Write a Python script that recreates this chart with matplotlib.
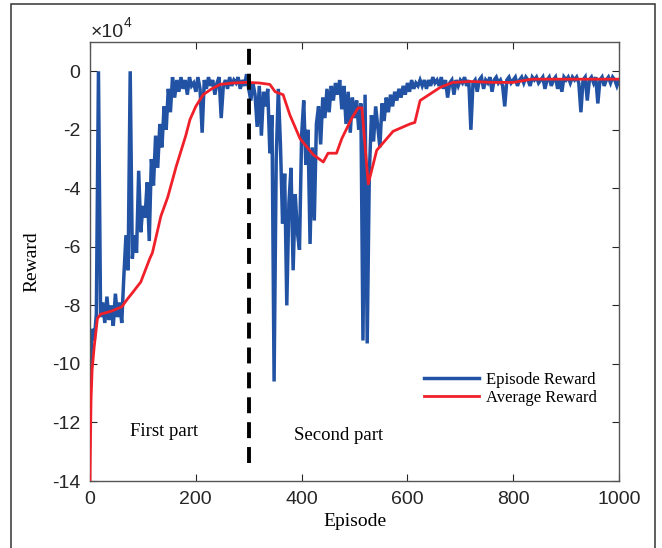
import numpy as np
import matplotlib
matplotlib.use('Agg')
import matplotlib.pyplot as plt
from matplotlib.patches import Rectangle

plt.rcParams['axes.unicode_minus'] = False

# reward values in units of 1e4 (axis shows "x10^4")
episodes = np.arange(0, 1001, 4)
episode_reward = [
    -10.5, -8.8, -9.2, -8.3, 0.0, -8.4, -7.9, -8.6, -7.7, -8.5,
    -8.0, -8.7, -7.6, -8.4, -7.9, -8.6, -7.0, -5.6, -6.8, 0.0,
    -6.4, -5.6, -6.2, -3.4, -5.5, -4.6, -5.0, -3.8, -5.8, -3.0,
    -3.9, -2.2, -3.3, -1.8, -2.6, -1.2, -2.0, -0.6, -1.4, -0.2,
    -0.9, -0.3, -0.7, -0.2, -0.6, -0.3, -0.8, -0.2, -0.5, -0.4,
    -0.7, -0.2, -0.6, -2.1, -0.3, -0.6, -0.2, -0.5, -0.3, -0.8,
    -0.4, -0.2, -1.6, -0.5, -0.3, -0.6, -0.2, -0.5, -0.3, -0.4,
    -0.2, -0.6, -0.3, -0.5, -0.1, -0.6, -1.0, -0.4, -0.8, -1.9,
    -0.5, -2.2, -0.7, -1.2, -0.6, -2.8, -1.5, -10.6, -3.0, -0.6,
    -2.5, -5.2, -3.5, -8.0, -4.5, -3.3, -6.8, -4.2, -5.5, -6.1,
    -2.2, -1.0, -3.2, -2.0, -5.9, -2.6, -5.1, -1.8, -1.2, -2.5,
    -0.9, -1.6, -0.6, -1.4, -0.5, -1.0, -0.4, -0.8, -0.3, -1.3,
    -0.5, -1.8, -0.7, -2.1, -0.9, -1.6, -1.0, -2.0, -1.1, -9.2,
    -0.8, -9.3, -3.5, -1.5, -2.4, -1.2, -1.9, -2.6, -1.1, -1.7,
    -0.9, -1.4, -0.8, -1.2, -0.7, -1.0, -0.6, -0.9, -0.5, -0.8,
    -0.4, -0.7, -0.3, -0.6, -0.4, -0.5, -0.3, -0.5, -0.3, -0.6,
    -0.3, -0.5, -0.2, -0.4, -0.3, -0.5, -0.2, -0.6, -0.3, -0.9,
    -0.4, -0.3, -0.8, -0.3, -0.5, -0.3, -0.4, -0.2, -0.5, -0.3,
    -2.0, -0.4, -0.3, -0.7, -0.3, -0.2, -0.6, -0.3, -0.4, -0.2,
    -0.7, -0.3, -0.2, -0.4, -0.3, -0.5, -1.2, -0.3, -0.2, -0.4,
    -0.3, -0.2, -0.5, -0.3, -0.2, -0.4, -0.2, -0.3, -0.5, -0.2,
    -0.3, -0.2, -0.4, -0.3, -0.2, -0.6, -0.3, -0.2, -0.5, -0.3,
    -0.2, -0.6, -0.3, -0.7, -0.2, -0.3, -0.2, -0.4, -0.2, -0.3,
    -0.2, -0.4, -1.4, -0.3, -0.2, -1.0, -0.3, -0.2, -0.4, -0.2,
    -1.1, -0.3, -0.2, -0.5, -0.3, -0.2, -0.4, -0.2, -0.3, -0.5,
    -0.3,
]
avg_episodes = [0, 1, 2, 4, 8, 14, 20, 40, 60, 70, 81, 96, 113, 118, 134, 147,
                163, 181, 189, 200, 214, 230, 246, 270, 296, 320, 340, 350,
                365, 378, 397, 422, 441, 450, 466, 476, 495, 507, 514, 526,
                542, 573, 605, 614, 624, 662, 686, 720, 760, 800, 835, 900, 1000]
average_reward = [-14.0, -12.5, -11.2, -10.2, -9.4, -8.45, -8.3, -8.2, -8.05, -7.8,
                  -7.55, -7.2, -6.4, -6.2, -4.95, -4.3, -3.25, -2.2, -1.65, -1.2,
                  -0.8, -0.6, -0.45, -0.4, -0.38, -0.4, -0.45, -0.7, -0.8, -1.5,
                  -2.3, -2.85, -3.1, -2.8, -2.8, -2.3, -1.6, -1.25, -1.25, -3.85,
                  -2.7, -2.05, -1.8, -1.75, -1.0, -0.55, -0.38, -0.35, -0.38, -0.38,
                  -0.27, -0.27, -0.27]
split_episode = 300

BLUE = '#2152a3'
RED = '#f0202a'
SERIF = 'Liberation Serif'
SANS = 'Liberation Sans'

fig = plt.figure(figsize=(6.62, 5.48), dpi=100)
fig.patch.set_facecolor('white')
fig.add_artist(Rectangle((11/662, -0.02), 644/662, 1.02 - 4/548, transform=fig.transFigure,
                         fill=False, edgecolor='#333333', lw=1.1))

ax = fig.add_axes([90/662, 67/548, 529/662, 439/548])
ax.plot(episodes, episode_reward, color=BLUE, lw=2.5, label='Episode Reward', zorder=2,
        solid_joinstyle='miter')
ax.plot(avg_episodes, average_reward, color=RED, lw=2.0, label='Average Reward', zorder=3)
ax.plot([split_episode, split_episode], [-13.4, 0.9], color='black', lw=2.8,
        dashes=(4.1, 2.3), zorder=4)

ax.set_xlim(0, 1000)
ax.set_ylim(-14, 1)
ax.set_xticks(range(0, 1001, 200))
ax.set_yticks(range(-14, 1, 2))
ax.tick_params(direction='in', top=True, right=True, length=5, width=0.8,
               labelsize=14, colors='#262626', pad=7)
for lbl in ax.get_xticklabels() + ax.get_yticklabels():
    lbl.set_fontfamily(SANS)
for s in ax.spines.values():
    s.set_edgecolor('#555555'); s.set_linewidth(1.0)

ax.set_xlabel('Episode', fontfamily=SERIF, fontsize=14, labelpad=4)
ax.set_ylabel('Reward', fontfamily=SERIF, fontsize=14, labelpad=8)

ax.text(140, -12.3, 'First part', fontfamily=SERIF, fontsize=13.5, ha='center', va='center')
ax.text(469, -12.45, 'Second part', fontfamily=SERIF, fontsize=13.5, ha='center', va='center')

fig.text(91/662, (548 - 37)/548, '×10', fontfamily=SANS, fontsize=14, va='baseline',
         color='#262626')
fig.text(124/662, (548 - 27)/548, '4', fontfamily=SANS, fontsize=10, va='baseline',
         color='#262626')

ax.legend(loc='center left', bbox_to_anchor=(0.632, 0.21), frameon=False,
          prop={'family': SERIF, 'size': 12}, handlelength=3.3, handletextpad=0.4,
          labelspacing=0.15, borderpad=0, borderaxespad=0)

plt.savefig('out.png', dpi=100, facecolor='white')
